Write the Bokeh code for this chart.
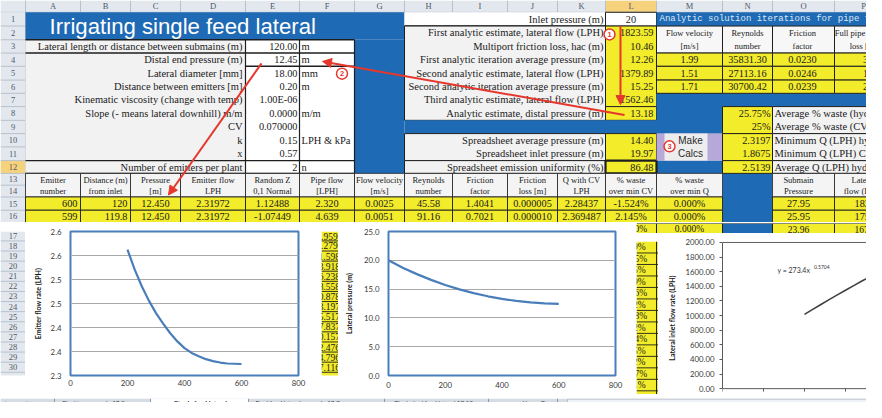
from bokeh.plotting import figure
from bokeh.layouts import row, column
from bokeh.models import (Range1d, FixedTicker, CustomJSTickFormatter, NumeralTickFormatter,
                          Arrow, NormalHead, Label)
from bokeh.core.properties import value
from bokeh.embed import file_html
from bokeh.resources import INLINE

# ------------------------------------------------------------------ data
COLUMN_LETTERS = list("ABCDEFGHIJKLMNOP")
ROW_NUMBERS = list(range(1, 31))
TITLE = "Irrigating single feed lateral"

INPUT_LABELS = ["Lateral length or distance between submains (m)", "Distal end pressure (m)",
                "Lateral diameter [mm]", "Distance between emitters [m]",
                "Kinematic viscosity (change with temp)", "Slope (- means lateral downhill) m/m",
                "CV", "k", "x", "Number of emitters per plant"]
INPUT_VALUES = ["120.00", "12.45", "18.00", "0.20", "1.00E-06", "0.0000", "0.070000", "0.15", "0.57", "2"]
INPUT_UNITS = ["m", "m", "mm", "m", "", "m/m", "", "LPH & kPa", "", "n"]

INLET_LABEL = "Inlet pressure (m)"
INLET_VALUE = "20"
ANALYTIC_LABELS = ["First analytic estimate, lateral flow (LPH)", "Multiport friction loss, hac (m)",
                   "First analytic iteration average pressure (m)", "Second analytic estimate, lateral flow (LPH)",
                   "Second analytic iteration average pressure (m)", "Third analytic estimate, lateral flow (LPH)",
                   "Analytic estimate, distal pressure (m)"]
ANALYTIC_VALUES = ["1823.59", "10.46", "12.26", "1379.89", "15.25", "1562.46", "13.18"]
SHEET_LABELS = ["Spreadsheet average pressure (m)", "Spreadsheet inlet pressure (m)",
                "Spreadsheet emission uniformity (%)"]
SHEET_VALUES = ["14.40", "19.97", "86.48"]
BUTTON_TEXT = ["Make", "Calcs"]

ITER_TITLE = "Analytic solution iterations for pipe friction"
ITER_HEAD1 = ["Flow velocity", "Reynolds", "Friction", "Full pipe friction"]
ITER_HEAD2 = ["[m/s]", "number", "factor", "loss [m]"]
ITER_VELOCITY = ["1.99", "1.51", "1.71"]
ITER_REYNOLDS = ["35831.30", "27113.16", "30700.42"]
ITER_FRICTION = ["0.0230", "0.0246", "0.0239"]
ITER_LOSS = ["30.96", "18.98", "23.67"]

SUMMARY_VALUES = ["25.75%", "25%", "2.3197", "1.8675", "2.5139"]
SUMMARY_LABELS = ["Average % waste (hydraulic)", "Average % waste (CV) (estimate)",
                  "Minimum Q (LPH) hydraulic", "Minimum Q (LPH) CV (estimate)",
                  "Average Q (LPH) hydraulic"]

TABLE_HEAD1 = ["Emitter", "Distance (m)", "Pressure", "Emitter flow", "Random Z", "Pipe flow",
               "Flow velocity", "Reynolds", "Friction", "Friction", "Q with CV", "% waste",
               "% waste", "", "Submain", "Lateral"]
TABLE_HEAD2 = ["number", "from inlet", "[m]", "LPH", "0,1 Normal", "[LPH]", "[m/s]", "number",
               "factor", "loss [m]", "LPH", "over min CV", "over min Q", "", "Pressure", "flow (LPH)"]
EMITTER_NUMBER = ["600", "599"]
DISTANCE = ["120", "119.8"]
PRESSURE = ["12.450", "12.450"]
EMITTER_FLOW = ["2.31972", "2.31972"]
RANDOM_Z = ["1.12488", "-1.07449"]
PIPE_FLOW = ["2.320", "4.639", "6.959", "9.279", "11.598", "13.918", "16.238", "18.558", "20.878",
             "23.197", "25.517", "27.837", "30.157", "32.476", "34.796", "37.116"]
FLOW_VELOCITY = ["0.0025", "0.0051"]
REYNOLDS = ["45.58", "91.16"]
FRICTION_FACTOR = ["1.4041", "0.7021"]
FRICTION_LOSS = ["0.000005", "0.000010"]
Q_WITH_CV = ["2.28437", "2.369487"]
WASTE_CV = ["-1.524%", "2.145%", "-0.870%", "2.569%", "-1.205%", "0.815%", "3.019%", "-0.476%",
            "1.252%", "-2.038%", "0.702%", "-0.964%", "1.415%", "0.112%", "-1.837%", "0.661%"]
WASTE_Q = ["0.000%", "0.000%", "0.000%"]
SUBMAIN_P = ["27.95", "25.95", "23.96"]
LATERAL_FLOW = ["1827.41", "1751.37", "1673.55"]

# chart 1: emitter flow rate
EMITTER_X = [200, 225, 250, 275, 300, 325, 350, 375, 400, 425, 450, 475, 500, 525, 550, 575, 600]
EMITTER_Q = [2.562, 2.521, 2.486, 2.456, 2.430, 2.408, 2.388, 2.371, 2.357, 2.347, 2.340, 2.334,
             2.330, 2.327, 2.325, 2.3245, 2.324]
Y1_TICKS = [2.30, 2.35, 2.40, 2.45, 2.50, 2.55, 2.60]
Y1_LABELS = ["2.3", "2.4", "2.4", "2.5", "2.5", "2.6", "2.6"]
X_TICKS = [0, 200, 400, 600, 800]
# chart 2: lateral pressure
PRESS_X = [0, 50, 100, 150, 200, 250, 300, 350, 400, 450, 500, 550, 600]
PRESS_Y = [20.0, 18.7, 17.6, 16.6, 15.7, 14.95, 14.3, 13.75, 13.3, 12.95, 12.7, 12.53, 12.45]
Y2_TICKS = [0, 5, 10, 15, 20, 25]
# chart 3: lateral inlet flow rate vs submain pressure
CURVE_P = [10, 11, 12, 13, 14, 15, 16, 17, 18, 19, 20]
CURVE_Q = [1016, 1085, 1152, 1218, 1283, 1347, 1410, 1472, 1533, 1594, 1654]
Y3_TICKS = [0, 200, 400, 600, 800, 1000, 1200, 1400, 1600, 1800, 2000]
X3_TICKS = [0, 5, 10, 15]
TREND_TEXT = "y = 273.4x"
TREND_EXP = "0.5704"
SHEET_TABS = ["Flushing example 17-8", "Single feed lateral", "Dual feed lateral example 17-7",
              "Flush dual feed lateral 17-10", "Upper E"]

# ------------------------------------------------------------------ style / geometry
SERIF = "Liberation Serif"
SANS = "Lato"
ARIAL = "Liberation Sans"
MONO = "Liberation Mono"
BLUE = "#1F6AB4"
YEL = "#F2EC2B"
LGRAY = "#F2F2F2"
HDR = "#E3E8EF"
HDRLINE = "#B7C0CC"
GOLD = "#F6D27C"
INK = "#1E1E1E"
RED = "#E5372C"
CBLUE = "#4A7EBB"
PURPLE = "#B6A8D8"
LBL = 10.5   # label font size
VAL = 10.3   # value font size
HED = 8.5    # table header font size

CX = [33, 88, 138, 188, 253, 307, 362, 412, 460, 515, 565, 613, 664, 730, 780, 842, 900]
RY = {1: 20, 2: 34, 3: 48, 4: 61.5, 5: 75, 6: 89, 7: 102.5, 8: 116, 9: 130, 10: 143.5, 11: 157,
      12: 171, 13: 184, 14: 196, 15: 208, 16: 221.5, 17: 234}
for _n in range(18, 34):
    RY[_n] = 245.5 + (_n - 18) * 12.35


def cx(c):
    i = COLUMN_LETTERS.index(c)
    return CX[i], CX[i + 1]


def cc(c):
    a, b = cx(c)
    return (a + b) / 2


def rc(n):
    return (RY[n] + RY[n + 1]) / 2


def sheet_fig(x0, x1, y0, y1, w, h):
    p = figure(width=w, height=h, x_range=Range1d(x0, x1), y_range=Range1d(y1, y0),
               toolbar_location=None, output_backend="svg", min_border=0,
               x_axis_location=None, y_axis_location=None, outline_line_color=None,
               background_fill_color="white", border_fill_color="white")
    p.grid.visible = False
    return p


def box(p, x0, x1, y0, y1, fill=None, line=None, lw=1.0):
    p.quad(left=[x0], right=[x1], top=[y0], bottom=[y1], fill_color=fill,
           line_color=line, line_width=lw)


def seg(p, x0, y0, x1, y1, color=INK, w=1.0):
    p.segment(x0=x0, y0=y0, x1=x1, y1=y1, line_color=color, line_width=w)


def put(p, xs, ys, texts, align="left", size=VAL, color="#1A1A1A", font=SERIF, style="normal"):
    texts = list(texts) if isinstance(texts, (list, tuple)) else [texts]
    n = len(texts)
    xs = list(xs) if isinstance(xs, (list, tuple)) else [xs] * n
    ys = list(ys) if isinstance(ys, (list, tuple)) else [ys] * n
    p.text(x=xs, y=ys, text=texts, text_align=align, text_baseline="middle",
           text_font=value(font), text_font_size=value(f"{size}px"),
           text_color=color, text_font_style=style)


# ------------------------------------------------------------------ top sheet
top = sheet_fig(8, 874, 8, 234, 866, 222)

# column header band
box(top, 8, 874, 8, 20, HDR)
box(top, *cx("L"), 8, 20, GOLD)
vx = CX[:16]
seg(top, vx, [8] * 16, vx, [20] * 16, HDRLINE)
seg(top, [8], [20], [874], [20], HDRLINE)
put(top, [cc(c) for c in COLUMN_LETTERS], 14, COLUMN_LETTERS, "center", 8.5, "#4F5966")

# row header band
box(top, 8, 33, 20, 234, HDR)
box(top, 8, 33, RY[12], RY[13], GOLD)
hy = [RY[n] for n in range(2, 18)]
seg(top, [8] * len(hy), hy, [33] * len(hy), hy, HDRLINE)
seg(top, [33], [8], [33], [234], HDRLINE)
put(top, 20.5, [rc(n) for n in range(1, 17)], [str(n) for n in ROW_NUMBERS[:16]], "center", 8.5, "#4F5966")

# title banner and blue column G
box(top, 33, 412, 20, 48, BLUE)
box(top, 362, 412, 48, 184, BLUE)
put(top, 57, 34.5, TITLE, "left", 22.2, "white", ARIAL)

# left input block
box(top, 33, 253, RY[3], RY[13], LGRAY)
box(top, 253, 307, RY[3], RY[13], "white")
box(top, 307, 362, RY[3], RY[13], "white")
seg(top, [33, 33, 253, 33, 33], [RY[3], RY[4], RY[5], RY[12], RY[13]],
    [362, 362, 362, 362, 362], [RY[3], RY[4], RY[5], RY[12], RY[13]], INK, 1.4)
seg(top, [253, 307, 362], [RY[3]] * 3, [253, 307, 362], [RY[13]] * 3, INK, 1.2)
in_rows = [rc(n) for n in range(3, 13)]
put(top, 250, in_rows, INPUT_LABELS, "right", LBL)
put(top, 305, in_rows, INPUT_VALUES, "right", VAL)
put(top, 309, in_rows, INPUT_UNITS, "left", LBL)

# inlet pressure row
box(top, 412, 613, RY[1], RY[2], "white")
seg(top, [412], [RY[2]], [613], [RY[2]], INK, 1.5)
put(top, 611, rc(1), INLET_LABEL, "right", LBL)
box(top, 613, 664, RY[1], RY[2], "white", INK)
put(top, cc("L"), rc(1), INLET_VALUE, "center", VAL)
box(top, 664, 900, RY[1], RY[2], BLUE)
put(top, 667, rc(1), ITER_TITLE, "left", 9.0, "#DCE7F4", MONO)

# analytic estimates
box(top, 412, 613, RY[2], RY[9], LGRAY, INK)
put(top, 611, [rc(n) for n in range(2, 9)], ANALYTIC_LABELS, "right", LBL)
box(top, 613, 664, RY[2], RY[9], YEL, INK)
seg(top, [613], [RY[8]], [664], [RY[8]], INK)
put(top, 661, [rc(n) for n in range(2, 9)], ANALYTIC_VALUES, "right", VAL)

# blue fills
box(top, 412, 730, RY[9], RY[10], BLUE)
box(top, 664, 730, RY[7], RY[10], BLUE)
box(top, 664, 900, RY[7], RY[8], BLUE)
box(top, 664, 730, RY[12], RY[13], BLUE)
box(top, 730, 780, RY[13], RY[17], BLUE)

# spreadsheet results
box(top, 412, 613, RY[10], RY[12], LGRAY, INK)
box(top, 412, 613, RY[12], RY[13], LGRAY, INK)
put(top, 611, [rc(10), rc(11), rc(12)], SHEET_LABELS, "right", LBL)
box(top, 613, 664, RY[10], RY[12], YEL, INK)
box(top, 613, 664, RY[12], RY[13], YEL, INK, 2.2)
put(top, 661, [rc(10), rc(11), rc(12)], SHEET_VALUES, "right", VAL)

# Make Calcs button
box(top, 664, 730, RY[10], RY[12], PURPLE)
box(top, 672, 715, RY[10], RY[12], "#EDEDED")
put(top, 698, [150.5, 163.5], BUTTON_TEXT, "center", 10, "#2A2A2A", ARIAL)

# pipe friction iterations
for c in "MNOP":
    a, b = cx(c)
    box(top, a, b, RY[2], RY[4], "#F7F7F7", INK)
    for r in (4, 5, 6):
        box(top, a, b, RY[r], RY[r + 1], YEL, INK)
iter_x = [cc("M"), cc("N"), 810, 871]
put(top, iter_x, 41.5, ITER_HEAD1, "center", HED)
put(top, iter_x, 54.5, ITER_HEAD2, "center", HED)
iter_rows = [rc(4), rc(5), rc(6)]
put(top, cc("M"), iter_rows, ITER_VELOCITY, "center")
put(top, cc("N"), iter_rows, ITER_REYNOLDS, "center")
put(top, 810, iter_rows, ITER_FRICTION, "center")
put(top, 882, iter_rows, ITER_LOSS, "center")

# summary block
for ra, rb in ((8, 10), (10, 12), (12, 13)):
    box(top, 730, 780, RY[ra], RY[rb], YEL, INK)
    box(top, 780, 900, RY[ra], RY[rb], LGRAY, INK)
sum_rows = [rc(n) for n in range(8, 13)]
put(top, 778, sum_rows, SUMMARY_VALUES, "right", VAL)
put(top, 782, sum_rows, SUMMARY_LABELS, "left", LBL)

# table header rows 13-14 and values rows 15-16
for c in COLUMN_LETTERS:
    if c == "N":
        continue
    a, b = cx(c)
    box(top, a, b, RY[13], RY[15], "#F4F4F4", INK, 0.8)
    for r in (15, 16):
        box(top, a, b, RY[r], RY[r + 1], YEL, INK, 0.9)
hx = [cc(c) if c not in "OP" else (806 if c == "O" else 871) for c in COLUMN_LETTERS]
put(top, hx, 190.5, TABLE_HEAD1, "center", HED)
put(top, hx, 202.0, TABLE_HEAD2, "center", HED)
vr = [rc(15), rc(16)]
put(top, 85, vr, EMITTER_NUMBER, "right")
put(top, 135, vr, DISTANCE, "right")
put(top, cc("C"), vr, PRESSURE, "center")
put(top, cc("D"), vr, EMITTER_FLOW, "center")
put(top, cc("E"), vr, RANDOM_Z, "center")
put(top, cc("F"), vr, PIPE_FLOW[:2], "center")
put(top, cc("G"), vr, FLOW_VELOCITY, "center")
put(top, cc("H"), vr, REYNOLDS, "center")
put(top, cc("I"), vr, FRICTION_FACTOR, "center")
put(top, cc("J"), vr, FRICTION_LOSS, "center")
put(top, cc("K"), vr, Q_WITH_CV, "center")
put(top, cc("L"), vr, WASTE_CV[:2], "center")
put(top, cc("M"), vr, WASTE_Q[:2], "center")
put(top, 806, vr, SUBMAIN_P[:2], "center")
put(top, 862, vr, LATERAL_FLOW[:2], "left")


# red annotations
def red_arrow(p, xs, ys, xe, ye):
    p.add_layout(Arrow(end=NormalHead(size=9, fill_color=RED, line_color=RED),
                       x_start=xs, y_start=ys, x_end=xe, y_end=ye,
                       line_color=RED, line_width=2))


def badge(p, x, y, s):
    p.scatter([x], [y], size=11, marker="circle", fill_color="white", line_color=RED, line_width=1.5)
    put(p, x, y, s, "center", 7.5, RED, ARIAL, "bold")


red_arrow(top, 628, 34, 628, 114)
red_arrow(top, 632, 124.5, 330, 70)
red_arrow(top, 269, 72, 176, 206)
badge(top, 617, 42.5, "1")
badge(top, 349.5, 82.5, "2")
badge(top, 677, 156.5, "3")

# ------------------------------------------------------------------ bottom strips
seg_a = sheet_fig(8, 33, 234, 410, 25, 172)
box(seg_a, 8, 33, 234, 420, HDR)
ly = [RY[n] for n in range(18, 32)]
seg(seg_a, [8] * len(ly), ly, [33] * len(ly), ly, HDRLINE)
seg(seg_a, [33], [234], [33], [420], HDRLINE)
put(seg_a, 20.5, [rc(n) for n in range(17, 31)], [str(n) for n in ROW_NUMBERS[16:30]], "center", 8.5, "#4F5966")

strip_f = sheet_fig(329, 346, 234, 410, 17, 172)
box(strip_f, 329, 346, 234, 420, YEL)
seg(strip_f, [329] * len(ly), ly, [346] * len(ly), ly, INK, 0.9)
put(strip_f, cc("F"), [rc(n) for n in range(17, 31)], PIPE_FLOW[2:16], "center", 9.5)

row17 = sheet_fig(644, 874, 234, 245.5, 230, 11)
box(row17, 644, 664, 234, 245.5, YEL)
box(row17, 664, 730, 234, 245.5, YEL)
box(row17, 730, 780, 234, 245.5, BLUE)
box(row17, 780, 842, 234, 245.5, YEL)
box(row17, 842, 900, 234, 245.5, YEL)
seg(row17, [664, 730, 780, 842], [234] * 4, [664, 730, 780, 842], [245.5] * 4, INK, 1)
seg(row17, [644, 644], [234, 245.5], [900, 900], [234, 245.5], INK, 1)
put(row17, cc("L"), rc(17), WASTE_CV[2], "center", 9.5)
put(row17, cc("M"), rc(17), WASTE_Q[2], "center", 9.5)
put(row17, 806, rc(17), SUBMAIN_P[2], "center", 9.5)
put(row17, 862, rc(17), LATERAL_FLOW[2], "left", 9.5)

strip_l = sheet_fig(644, 666, 245.5, 410, 22, 161)
box(strip_l, 644, 666, 245.5, 420, YEL)
ly2 = [RY[n] for n in range(19, 32)]
seg(strip_l, [644] * len(ly2), ly2, [666] * len(ly2), ly2, INK, 0.9)
seg(strip_l, [664], [245.5], [664], [420], INK, 1)
put(strip_l, cc("L"), [rc(n) for n in range(18, 31)], WASTE_CV[3:16], "center", 9.5)


# ------------------------------------------------------------------ charts
def chart_fig(w, h, xr, yr, bl, br, bt, bb, **kw):
    return figure(width=w, height=h, x_range=Range1d(*xr), y_range=Range1d(*yr),
                  toolbar_location=None, output_backend="svg",
                  min_border_left=bl, min_border_right=br, min_border_top=bt, min_border_bottom=bb,
                  background_fill_color="white", border_fill_color="white", **kw)


def style_axis(ax, standoff, label_standoff=6):
    ax.axis_line_color = None
    ax.major_tick_line_color = None
    ax.minor_tick_line_color = None
    ax.major_tick_out = 0
    ax.major_tick_in = 0
    ax.major_label_standoff = standoff
    ax.major_label_text_font = SANS
    ax.major_label_text_font_size = "7.8px"
    ax.major_label_text_color = "#3A3A3A"
    ax.axis_label_text_font = SANS
    ax.axis_label_text_font_size = "7px"
    ax.axis_label_text_font_style = "bold"
    ax.axis_label_text_color = "#1A1A1A"
    ax.axis_label_standoff = label_standoff


# chart 1
c1 = chart_fig(296, 172, (0, 800), (2.3, 2.6), 45, 23, 9, 15)
c1.outline_line_color = CBLUE
c1.outline_line_width = 2
c1.xgrid.visible = False
c1.ygrid.grid_line_color = "#A8A8A8"
c1.yaxis.ticker = FixedTicker(ticks=Y1_TICKS)
c1.ygrid.ticker = FixedTicker(ticks=Y1_TICKS)
c1.yaxis.formatter = CustomJSTickFormatter(args=dict(tv=Y1_TICKS, tl=Y1_LABELS), code="""
for (let i = 0; i < tv.length; i++) { if (Math.abs(tv[i] - tick) < 1e-6) { return tl[i]; } }
return "";
""")
c1.xaxis.ticker = FixedTicker(ticks=X_TICKS)
style_axis(c1.xaxis[0], 4)
style_axis(c1.yaxis[0], 9, 6)
c1.yaxis.axis_label = "Emitter flow rate (LPH)"
c1.line(EMITTER_X, EMITTER_Q, line_color=CBLUE, line_width=2.2)

# chart 2
c2 = chart_fig(298, 172, (0, 800), (0, 25), 50, 21, 7, 19)
c2.outline_line_color = CBLUE
c2.outline_line_width = 2
c2.xgrid.visible = False
c2.ygrid.grid_line_color = "#A8A8A8"
c2.yaxis.ticker = FixedTicker(ticks=Y2_TICKS)
c2.ygrid.ticker = FixedTicker(ticks=Y2_TICKS)
c2.yaxis.formatter = NumeralTickFormatter(format="0.0")
c2.xaxis.ticker = FixedTicker(ticks=X_TICKS)
style_axis(c2.xaxis[0], 6)
style_axis(c2.yaxis[0], 9, 8)
c2.yaxis.axis_label = "Lateral pressure (m)"
c2.line(PRESS_X, PRESS_Y, line_color=CBLUE, line_width=2.2)

# chart 3 (x tick labels are hidden under the sheet tabs in the original)
AX3 = "#5A5A5A"
X3_END = 17.56
c3 = chart_fig(208, 161, (0, X3_END), (-80, 2013), 64, 0, 8, 0, x_axis_location=None)
c3.outline_line_color = None
c3.grid.visible = False
c3.yaxis.ticker = FixedTicker(ticks=Y3_TICKS)
c3.yaxis.formatter = NumeralTickFormatter(format="0.00")
c3.yaxis.bounds = (Y3_TICKS[0], Y3_TICKS[-1])
style_axis(c3.yaxis[0], 5, 7)
c3.yaxis.axis_line_color = AX3
c3.yaxis.major_tick_line_color = AX3
c3.yaxis.major_tick_out = 3
c3.yaxis.axis_label = "Lateral inlet flow rate (LPH)"
c3.segment(x0=[0, 0], y0=[Y3_TICKS[-1], 0], x1=[X3_END, X3_END], y1=[Y3_TICKS[-1], 0],
           line_color=AX3, line_width=1)
c3.segment(x0=X3_TICKS, y0=[0] * len(X3_TICKS), x1=X3_TICKS, y1=[-40] * len(X3_TICKS),
           line_color=AX3, line_width=1)
c3.line(CURVE_P, CURVE_Q, line_color="#404040", line_width=1.6)
c3.add_layout(Label(x=6.7, y=1624, text=TREND_TEXT, text_font=SANS, text_font_size="7px",
                    text_baseline="middle", text_color="#333333"))
c3.add_layout(Label(x=11.15, y=1668, text=TREND_EXP, text_font=SANS, text_font_size="5px",
                    text_baseline="middle", text_color="#333333"))

# ------------------------------------------------------------------ sheet tabs
tabs = sheet_fig(8, 874, 410, 418, 866, 8)
box(tabs, 8, 874, 410, 418, "#D6DCE4")
box(tabs, 158, 256, 410, 418, "white")
box(tabs, 575, 874, 410.6, 417.4, "#EEF1F5", "#B5BDC8")
seg(tabs, [62, 158, 256, 392, 496, 565], [410] * 6, [62, 158, 256, 392, 496, 565], [418] * 6, "#8E98A6", 1)
put(tabs, 12, 414, "|◄  ◄  ►  ►|", "left", 5, "#5C6673", "DejaVu Sans")
put(tabs, 101, 414, SHEET_TABS[0], "center", 6.2, "#333333", ARIAL)
put(tabs, 208, 414, SHEET_TABS[1], "center", 6.2, "#111111", ARIAL, "bold")
put(tabs, [263, 402, 530], 414, SHEET_TABS[2:], "left", 6.2, "#333333", ARIAL)

# ------------------------------------------------------------------ layout
bottom = row(seg_a, c1, strip_f, c2, column(row17, row(strip_l, c3)))
page = column(top, bottom, tabs)
open("out.html", "w").write(file_html(page, INLINE))
